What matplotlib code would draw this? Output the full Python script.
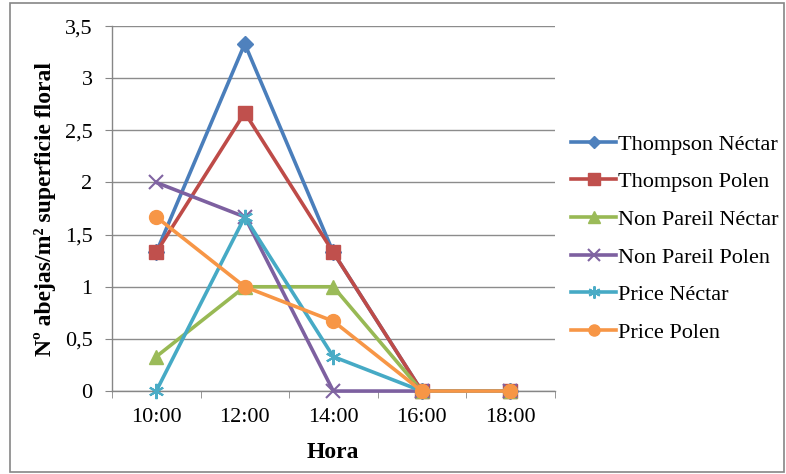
import numpy as np
import matplotlib.pyplot as plt
from matplotlib.patches import Rectangle
from matplotlib.ticker import FixedLocator, FuncFormatter

# ─────────────────────────────────────────────
# Data
# ─────────────────────────────────────────────

horas = ["10:00", "12:00", "14:00", "16:00", "18:00"]

thompson_nectar   = [1.33, 3.33, 1.33, 0, 0]
thompson_polen    = [1.33, 2.67, 1.33, 0, 0]
nonpareil_nectar  = [0.33, 1.0, 1.0, 0, 0]
nonpareil_polen   = [2.0, 1.67, 0, 0, 0]
price_nectar      = [0, 1.67, 0.33, 0, 0]
price_polen       = [1.67, 1.0, 0.67, 0, 0]

series_names = ["Thompson Néctar", "Thompson Polen", "Non Pareil Néctar",
                "Non Pareil Polen", "Price Néctar", "Price Polen"]
series_vals = [thompson_nectar, thompson_polen, nonpareil_nectar,
               nonpareil_polen, price_nectar, price_polen]

# ─────────────────────────────────────────────
# Styles (Excel 2007 palette)
# ─────────────────────────────────────────────

styles = [
    dict(color="#4A7EBB", marker="D", ms=8,  mfc="#4F81BD", mec="#4F81BD"),
    dict(color="#BE4B48", marker="s", ms=10, mfc="#C0504D", mec="#C0504D"),
    dict(color="#98B954", marker="^", ms=10, mfc="#9BBB59", mec="#9BBB59"),
    dict(color="#7D60A0", marker="x", ms=10, mfc="#8064A2", mec="#8064A2", mew=1.5),
    dict(color="#46AAC5", marker=(6, 2, 0), ms=11, mfc="#4BACC6", mec="#4BACC6", mew=1.5),
    dict(color="#F79646", marker="o", ms=10, mfc="#F79646", mec="#F79646"),
]

plt.rcParams['font.family'] = ['Liberation Serif', 'DejaVu Serif']

fig = plt.figure(figsize=(7.86, 4.74), dpi=100)
ax = fig.add_axes([0.1425, 0.175, 0.563, 0.770])

x = np.arange(len(horas))
for name, vals, st in zip(series_names, series_vals, styles):
    ax.plot(x, vals, label=name, linewidth=2.6, zorder=3, clip_on=False, **st)

ax.set_xlim(-0.5, len(horas) - 0.5)
ax.set_ylim(0, 3.5)
ax.set_yticks(np.arange(0, 3.51, 0.5))
ax.yaxis.set_major_formatter(FuncFormatter(
    lambda v, p: ("%g" % v).replace(".", ",")))
ax.set_xticks(x)
ax.set_xticklabels(horas)
ax.xaxis.set_minor_locator(FixedLocator(np.arange(-0.5, len(horas), 1.0)))
ax.tick_params(axis="x", which="major", length=0, pad=12, labelsize=16)
ax.tick_params(axis="x", which="minor", length=5, color="#868686", direction="out")
ax.tick_params(axis="y", length=5, color="#868686", direction="out", pad=9, labelsize=16)

ax.grid(axis="y", color="#8C8C8C", linewidth=1.0, zorder=0)
ax.set_axisbelow(True)
for s in ["top", "right"]:
    ax.spines[s].set_visible(False)
for s in ["left", "bottom"]:
    ax.spines[s].set_color("#868686")
    ax.spines[s].set_linewidth(1.0)

ax.set_xlabel("Hora", fontsize=17, fontweight="bold", labelpad=11)
ax.set_ylabel("Nº abejas/m² superficie floral", fontsize=17, fontweight="bold",
              labelpad=6)

leg = fig.legend(loc="center left", bbox_to_anchor=(0.7015, 0.497), frameon=False,
                 fontsize=16, handlelength=2.0, handletextpad=0.1,
                 labelspacing=0.77, markerscale=0.8)

# outer chart frame
fig.patches.append(Rectangle((0.013, 0.004), 0.985, 0.99, transform=fig.transFigure,
                             fill=False, edgecolor="#868686", linewidth=1.2))

fig.savefig("out.png", dpi=100)
